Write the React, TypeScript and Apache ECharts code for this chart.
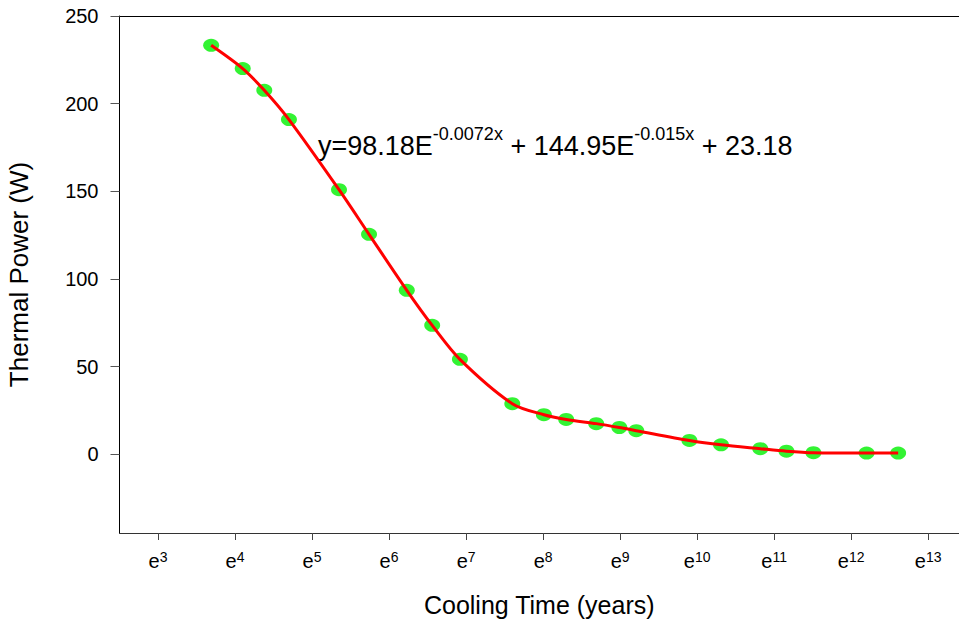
import React, { useEffect, useRef } from "react";
import * as echarts from "echarts";

// ln(cooling time) positions of the measured points
const coolingTimeLn = [3.69, 4.1, 4.38, 4.7, 5.35, 5.74, 6.23, 6.56, 6.92, 7.6, 8.01, 8.3, 8.69, 8.99, 9.21, 9.9, 10.31, 10.82, 11.16, 11.51, 12.2, 12.61];
// thermal power (W)
const thermalPower = [233.3, 220.0, 207.6, 190.9, 150.9, 125.4, 93.5, 73.5, 54.1, 28.8, 22.5, 19.8, 17.4, 15.2, 13.4, 7.8, 5.3, 3.1, 1.7, 0.8, 0.6, 0.6];
// x tick exponents
const xTickExponents = [3, 4, 5, 6, 7, 8, 9, 10, 11, 12, 13];
// y tick values
const yTickValues = [0, 50, 100, 150, 200, 250];

const FONT = "'Liberation Sans', Arial, sans-serif";

export default function App() {
  const ref = useRef<HTMLDivElement>(null);
  useEffect(() => {
    if (!ref.current) return;
    const chart = echarts.init(ref.current, null, { renderer: "svg" });
    const pts = coolingTimeLn.map((x, i) => [x, thermalPower[i]]);
    chart.setOption({
      animation: false,
      backgroundColor: "#fff",
      textStyle: { fontFamily: FONT },
      grid: { left: 119.5, top: 16, right: 0, bottom: 89, containLabel: false, outerBoundsMode: "none" },
      xAxis: [
        {
          type: "value",
          min: 2.5,
          max: 13.4,
          name: "Cooling Time (years)",
          nameLocation: "middle",
          nameGap: 59,
          nameTextStyle: { fontSize: 25, color: "#000", fontFamily: FONT },
          axisLine: { show: true, onZero: false, lineStyle: { color: "#333", width: 1 } },
          axisTick: { show: true, customValues: xTickExponents, length: 7, inside: false, lineStyle: { color: "#444" } },
          axisLabel: {
            show: true,
            customValues: xTickExponents,
            margin: 17,
            formatter: (v: number) => `{b|e}{s|${v}}`,
            rich: {
              b: { fontSize: 20, color: "#000", fontFamily: FONT, lineHeight: 22 },
              s: { fontSize: 14, color: "#000", fontFamily: FONT, lineHeight: 14, verticalAlign: "top" },
            },
          },
          splitLine: { show: false },
        },
        {
          type: "value",
          position: "top",
          min: 2.5,
          max: 13.4,
          axisLine: { show: true, onZero: false, lineStyle: { color: "#000", width: 1 } },
          axisTick: { show: false },
          axisLabel: { show: false },
          splitLine: { show: false },
        },
      ],
      yAxis: {
        type: "value",
        min: -45,
        max: 250,
        name: "Thermal Power (W)",
        nameLocation: "middle",
        nameGap: 88,
        nameTextStyle: { fontSize: 26, color: "#000", fontFamily: FONT },
        axisLine: { show: true, onZero: false, lineStyle: { color: "#000", width: 1 } },
        axisTick: { show: true, customValues: yTickValues, length: 9, lineStyle: { color: "#555" } },
        axisLabel: { show: true, customValues: yTickValues, margin: 21, fontSize: 20, color: "#000", fontFamily: FONT },
        splitLine: { show: false },
      },
      series: [
        {
          type: "scatter",
          data: pts,
          symbol: "circle",
          symbolSize: [16, 13],
          itemStyle: { color: "#00f000" },
          z: 2,
        },
        {
          type: "line",
          data: pts,
          smooth: 0.3,
          showSymbol: false,
          symbol: "none",
          lineStyle: { color: "#ff0000", width: 3 },
          z: 3,
        },
      ],
      graphic: [
        {
          type: "text",
          left: 318,
          top: 125,
          style: {
            text: "{m|y=98.18E}{s|-0.0072x}{m| + 144.95E}{s|-0.015x}{m| + 23.18}",
            rich: {
              m: { fontSize: 27, lineHeight: 34, fill: "#000", fontFamily: FONT, verticalAlign: "bottom" },
              s: { fontSize: 18, lineHeight: 20, fill: "#000", fontFamily: FONT, verticalAlign: "top" },
            },
          },
        },
      ],
    });
    return () => chart.dispose();
  }, []);
  return <div ref={ref} style={{ position: "fixed", left: 0, top: 0, width: 959, height: 622 }} />;
}
